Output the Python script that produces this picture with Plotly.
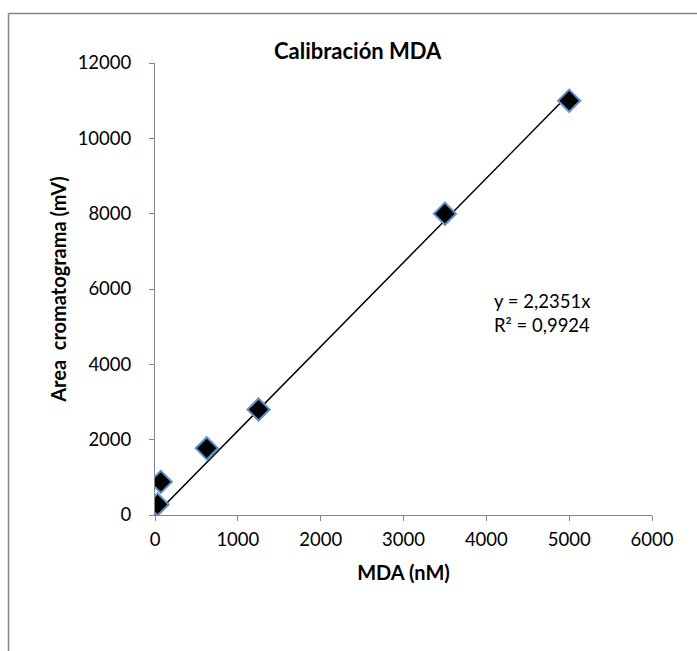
import plotly.graph_objects as go

# Data
mda_nM = [31.25, 70, 625, 1250, 3500, 5000]
area_mV = [280, 880, 1770, 2800, 8000, 11000]
slope = 2.2351
r2 = 0.9924
trend_x = [0, 5000]
trend_y = [slope * v for v in trend_x]

x_ticks = [0, 1000, 2000, 3000, 4000, 5000, 6000]
y_ticks = [0, 2000, 4000, 6000, 8000, 10000, 12000]
x_ticktext = [str(v) for v in x_ticks]
y_ticktext = [str(v) for v in y_ticks]

W, H = 697, 651
L, R, T, B = 155, 45, 63, 136
pw, ph = W - L - R, H - T - B

def px2paper_x(px):
    return (px - L) / pw

def px2paper_y(py):
    return (H - B - py) / ph

fig = go.Figure()
fig.add_trace(go.Scatter(x=trend_x, y=trend_y, mode="lines",
                         line=dict(color="black", width=1.5), showlegend=False))
fig.add_trace(go.Scatter(x=mda_nM, y=area_mV, mode="markers",
                         marker=dict(symbol="diamond", size=17, color="black",
                                     line=dict(color="#5B8FD0", width=2)),
                         showlegend=False))

frame_line = dict(color="#868686", width=1.5)
font = "Lato, 'Open Sans', sans-serif"
fig.update_layout(
    width=W, height=H,
    margin=dict(l=L, r=R, t=T, b=B),
    paper_bgcolor="white", plot_bgcolor="white",
    font=dict(family=font, size=18.5, color="black"),
    xaxis=dict(range=[0, 6000], tickvals=x_ticks, ticktext=x_ticktext,
               showgrid=False, zeroline=False,
               showline=True, linecolor="#868686", linewidth=1,
               ticks="outside", tickcolor="#868686", ticklen=5,
               ticklabelstandoff=3,
               title=dict(text="<b>MDA (nM)</b>", font=dict(size=20), standoff=16)),
    yaxis=dict(range=[0, 12000], tickvals=y_ticks, ticktext=y_ticktext,
               showgrid=False, zeroline=False,
               showline=True, linecolor="#868686", linewidth=1,
               ticks="outside", tickcolor="#868686", ticklen=5,
               ticklabelstandoff=14,
               title=dict(text="<b>Area  cromatograma (mV)</b>", font=dict(size=20), standoff=5)),
    shapes=[
        dict(type="line", xref="paper", yref="paper",
             x0=px2paper_x(8.5), x1=px2paper_x(8.5),
             y0=px2paper_y(13.5), y1=px2paper_y(660),
             line=frame_line, layer="below"),
        dict(type="line", xref="paper", yref="paper",
             x0=px2paper_x(8.5), x1=px2paper_x(700),
             y0=px2paper_y(13.5), y1=px2paper_y(13.5),
             line=frame_line, layer="below"),
    ],
    annotations=[
        dict(text="<b>Calibración MDA</b>", xref="paper", yref="paper",
             x=px2paper_x(358), y=px2paper_y(51), showarrow=False,
             font=dict(size=22), xanchor="center", yanchor="middle"),
        dict(text="y = 2,2351x<br>R² = 0,9924", xref="paper", yref="paper",
             x=px2paper_x(492), y=px2paper_y(313), showarrow=False,
             font=dict(size=18.5), xanchor="left", yanchor="middle", align="left"),
    ],
)

fig.write_html("out.html")
